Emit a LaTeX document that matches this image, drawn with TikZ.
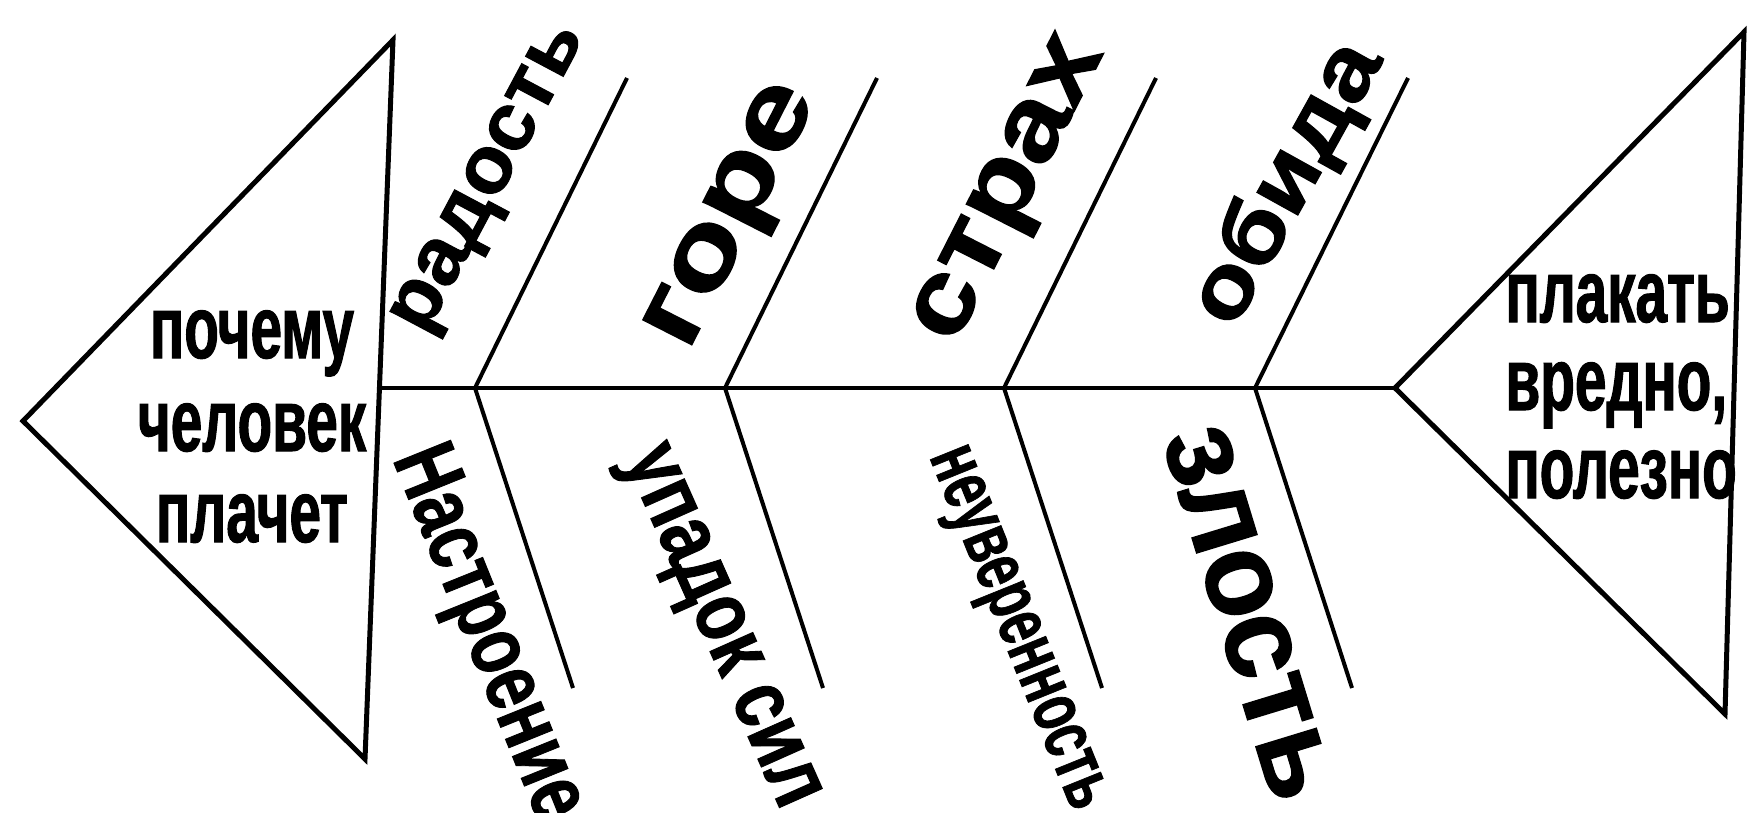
\documentclass[tikz,border=0pt]{standalone}
\usepackage{fontspec}
\newfontfamily\cond[FakeStretch=0.64,FakeBold=1.2]{Liberation Sans}
\newfontfamily\lblfam[FakeBold=1.2]{Liberation Sans}
\newlength\lblw
\newcommand\mylbl[3]{%
  \settowidth\lblw{\lblfam\bfseries\fontsize{20}{24}\selectfont #3}%
  \pgfmathsetmacro\lblsx{(#1*0.5)/\lblw}%
  \pgfmathsetmacro\lblsy{(#2*0.5)/10.38}%
  \scalebox{\lblsx}[\lblsy]{\lblfam\bfseries\fontsize{20}{24}\selectfont #3}}
\tikzset{
  tri/.style={draw, line width=2.5pt, line join=miter},
  bone/.style={line width=2pt},
  boxtxt/.style={font=\cond\bfseries\fontsize{44.3}{46}\selectfont, inner sep=0},
  lbl/.style={inner sep=0},
}
\begin{document}
\begin{tikzpicture}[x=0.5pt,y=-0.5pt]
\useasboundingbox[fill=white] (0,0) rectangle (1750,813);
% left triangle (head)
\coordinate (LT) at (23,421);
\coordinate (LA) at (393,40);
\coordinate (LB) at (365,759);
\draw[tri] (LT) -- (LA) -- (LB) -- cycle;
% right triangle (tail)
\coordinate (RT) at (1395,388);
\coordinate (RA) at (1744,32);
\coordinate (RB) at (1725,714);
\draw[tri] (RT) -- (RA) -- (RB) -- cycle;
% spine
\coordinate (S0) at (379,388);
\draw[bone] (S0) -- (RT);
% bones
\coordinate (B1) at (475,388); \coordinate (U1) at (627,78);  \coordinate (D1) at (573,688);
\coordinate (B2) at (725,388); \coordinate (U2) at (877,78);  \coordinate (D2) at (823,688);
\coordinate (B3) at (1004,388);\coordinate (U3) at (1156,78); \coordinate (D3) at (1102,688);
\coordinate (B4) at (1255,388);\coordinate (U4) at (1408,78); \coordinate (D4) at (1352,688);
\draw[bone] (B1) -- (U1); \draw[bone] (B1) -- (D1);
\draw[bone] (B2) -- (U2); \draw[bone] (B2) -- (D2);
\draw[bone] (B3) -- (U3); \draw[bone] (B3) -- (D3);
\draw[bone] (B4) -- (U4); \draw[bone] (B4) -- (D4);
% head text
\node[boxtxt, anchor=base] (h1) at (252,358) {почему};
\node[boxtxt, anchor=base] (h2) at (252,451) {человек};
\node[boxtxt, anchor=base] (h3) at (252,542) {плачет};
% tail text
\node[boxtxt, anchor=base west] (r1) at (1505,322) {плакать};
\node[boxtxt, anchor=base west] (r2) at (1505,410) {вредно,};
\node[boxtxt, anchor=base west] (r3) at (1505,498) {полезно};
% upper labels
\node[lbl, rotate=62] (t1) at (493,180) {\mylbl{340}{42}{радость}};
\node[lbl, rotate=63] (t2) at (737,218) {\mylbl{285}{54}{горе}};
\node[lbl, rotate=63] (t3) at (1014,192) {\mylbl{330}{53}{страх}};
\node[lbl, rotate=61] (t4) at (1288,184) {\mylbl{310}{46}{обида}};
% lower labels
\node[lbl, rotate=-68] (b1) at (486,634) {\mylbl{395}{46}{Настроение}};
\node[lbl, rotate=-66] (b2) at (716,629) {\mylbl{388}{46}{упадок сил}};
\node[lbl, rotate=-68] (b3) at (1013,630) {\mylbl{385}{40}{неуверенность}};
\node[lbl, rotate=-73] (b4) at (1248,613) {\mylbl{385}{62}{злость}};
\end{tikzpicture}
\end{document}
